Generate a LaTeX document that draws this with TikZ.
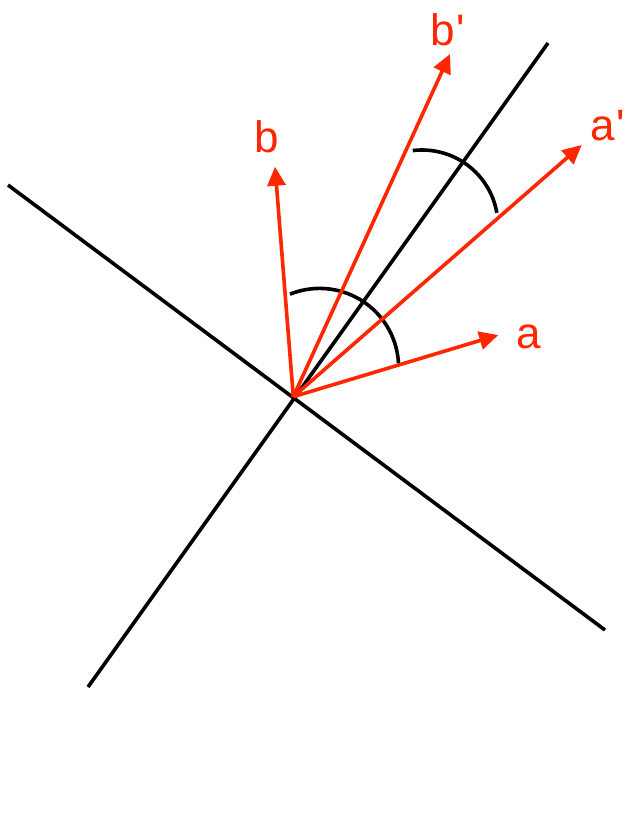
\documentclass[tikz,border=0pt]{standalone}
\usepackage{fontspec}
\setmainfont{Liberation Sans}
\usetikzlibrary{arrows.meta}
\definecolor{vred}{HTML}{FF2600}
\tikzset{
  axisline/.style={line width=3.6pt, black},
  vecarrow/.style={line width=3.6pt, vred, -{Triangle[length=19pt,width=18pt]}},
  anglearc/.style={line width=3.6pt, black},
  veclabel/.style={text=vred, inner sep=0pt, anchor=base west, font=\fontsize{44}{44}\selectfont}
}
\begin{document}
\begin{tikzpicture}[x=1pt,y=1pt]
\useasboundingbox (0,0) rectangle (631,-828);
\coordinate (O) at (293.3,-396.7);
\coordinate (L1a) at (8,-185);
\coordinate (L1b) at (605,-630);
\coordinate (L2a) at (88,-687);
\coordinate (L2b) at (548,-43);
\coordinate (ta) at (498.3,-335);
\coordinate (tap) at (581.7,-145);
\coordinate (tb) at (275,-166.7);
\coordinate (tbp) at (450,-54);
% axes
\draw[axisline] (L1a) -- (L1b);
\draw[axisline] (L2a) -- (L2b);
% angle arcs
\draw[anglearc] (319.6,-367.4) ++(3:79) arc[start angle=3, end angle=112, radius=79];
\draw[anglearc] (422,-226) ++(10:76) arc[start angle=10, end angle=97, radius=76];
% vectors
\draw[vecarrow] (O) -- (ta);
\draw[vecarrow] (O) -- (tap);
\draw[vecarrow] (O) -- (tb);
\draw[vecarrow] (O) -- (tbp);
% labels
\node[veclabel] (la) at (516,-348) {a};
\node[veclabel] (lap) at (590,-140) {a\kern2pt\textquotesingle};
\node[veclabel] (lb) at (254,-152) {b};
\node[veclabel] (lbp) at (430,-45) {b\kern2pt\textquotesingle};
\end{tikzpicture}
\end{document}
